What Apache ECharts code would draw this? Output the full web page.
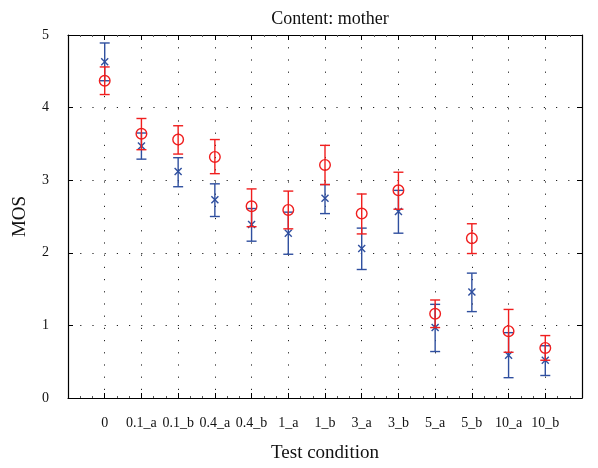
<!DOCTYPE html>
<html><head><meta charset="utf-8">
<script src="https://cdn.jsdelivr.net/npm/echarts@6/dist/echarts.min.js"></script>
<style>html,body{margin:0;padding:0;background:#fff}#c{width:598px;height:468px}</style>
</head><body><div id="c"></div>
<script>
var categories = ['0','0.1_a','0.1_b','0.4_a','0.4_b','1_a','1_b','3_a','3_b','5_a','5_b','10_a','10_b'];
// Blue series (x markers): mean, lower, upper
var blueMean  = [4.63, 3.47, 3.12, 2.73, 2.39, 2.27, 2.75, 2.06, 2.57, 0.97, 1.46, 0.59, 0.52];
var blueLow   = [4.37, 3.29, 2.91, 2.50, 2.16, 1.98, 2.54, 1.77, 2.27, 0.64, 1.19, 0.28, 0.31];
var blueHigh  = [4.89, 3.65, 3.31, 2.95, 2.61, 2.56, 2.94, 2.34, 2.86, 1.29, 1.72, 0.90, 0.72];
// Red series (circles): mean, lower, upper
var redMean   = [4.37, 3.64, 3.56, 3.32, 2.64, 2.59, 3.21, 2.54, 2.86, 1.16, 2.20, 0.92, 0.69];
var redLow    = [4.18, 3.42, 3.36, 3.09, 2.36, 2.33, 2.94, 2.26, 2.60, 0.97, 1.99, 0.63, 0.52];
var redHigh   = [4.56, 3.85, 3.75, 3.56, 2.88, 2.85, 3.48, 2.81, 3.11, 1.35, 2.40, 1.22, 0.86];
var yTicks = [0, 1, 2, 3, 4, 5];

var BLUE = '#2f4f9f', RED = '#f01e1e';

function build(mean, low, high) {
  return categories.map(function (c, i) { return [i + 1, mean[i], low[i], high[i]]; });
}

function makeRender(color, marker) {
  return function (params, api) {
    var x = api.value(0);
    var pm = api.coord([x, api.value(1)]);
    var pl = api.coord([x, api.value(2)]);
    var ph = api.coord([x, api.value(3)]);
    var cw = 5;
    var st = { stroke: color, lineWidth: 1.4, fill: null };
    var children = [
      { type: 'line', shape: { x1: pl[0], y1: pl[1], x2: ph[0], y2: ph[1] }, style: st },
      { type: 'line', shape: { x1: pl[0] - cw, y1: pl[1], x2: pl[0] + cw, y2: pl[1] }, style: st },
      { type: 'line', shape: { x1: ph[0] - cw, y1: ph[1], x2: ph[0] + cw, y2: ph[1] }, style: st }
    ];
    if (marker === 'circle') {
      children.push({ type: 'circle', shape: { cx: pm[0], cy: pm[1], r: 5.3 }, style: { stroke: color, lineWidth: 1.4, fill: 'none' } });
    } else {
      var s = 3.5;
      children.push({ type: 'line', shape: { x1: pm[0] - s, y1: pm[1] - s, x2: pm[0] + s, y2: pm[1] + s }, style: st });
      children.push({ type: 'line', shape: { x1: pm[0] - s, y1: pm[1] + s, x2: pm[0] + s, y2: pm[1] - s }, style: st });
    }
    return { type: 'group', children: children };
  };
}

var dotted = { color: '#222', width: 1, type: [1.2, 11] };
var serif = '"Liberation Serif", "DejaVu Serif", serif';

var chart = echarts.init(document.getElementById('c'), null, { renderer: 'canvas' });
chart.setOption({
  animation: false,
  backgroundColor: '#fff',
  title: {
    text: 'Content: mother', left: 325, top: 5, textAlign: 'center',
    textStyle: { fontFamily: serif, fontSize: 18, fontWeight: 'normal', color: '#111' }
  },
  grid: { left: 68, right: 16, top: 35, bottom: 63 },
  xAxis: [{
    type: 'value', min: 0, max: 14, interval: 1, position: 'bottom',
    axisLine: { show: true, onZero: false, lineStyle: { color: '#000', width: 1.2 } },
    axisTick: { show: true, inside: true, length: 5, lineStyle: { color: '#000' } },
    minorTick: { show: true, splitNumber: 3, length: 2, lineStyle: { color: '#555' } },
    splitLine: { show: true, lineStyle: dotted },
    axisLabel: {
      fontFamily: serif, fontSize: 14, color: '#111', margin: 18,
      formatter: function (v) { return (v >= 1 && v <= categories.length) ? categories[v - 1] : ''; }
    },
    name: 'Test condition', nameLocation: 'middle', nameGap: 46,
    nameTextStyle: { fontFamily: serif, fontSize: 19, color: '#111' }
  }, {
    type: 'value', min: 0, max: 14, interval: 1, position: 'top',
    axisLine: { show: true, onZero: false, lineStyle: { color: '#000', width: 1.2 } },
    axisTick: { show: true, inside: true, length: 5, lineStyle: { color: '#000' } },
    minorTick: { show: true, splitNumber: 3, length: 2, lineStyle: { color: '#555' } },
    splitLine: { show: false }, axisLabel: { show: false }
  }],
  yAxis: [{
    type: 'value', min: yTicks[0], max: yTicks[yTicks.length - 1], interval: 1, position: 'left',
    axisLine: { show: true, onZero: false, lineStyle: { color: '#000', width: 1.2 } },
    axisTick: { show: true, inside: true, length: 5, lineStyle: { color: '#000' } },
    splitLine: { show: true, lineStyle: dotted },
    axisLabel: { fontFamily: serif, fontSize: 14, color: '#111', margin: 19 },
    name: 'MOS', nameLocation: 'middle', nameGap: 38, nameRotate: 90,
    nameTextStyle: { fontFamily: serif, fontSize: 19, color: '#111' }
  }, {
    type: 'value', min: 0, max: 5, interval: 1, position: 'right',
    axisLine: { show: true, onZero: false, lineStyle: { color: '#000', width: 1.2 } },
    axisTick: { show: true, inside: true, length: 5, lineStyle: { color: '#000' } },
    splitLine: { show: false }, axisLabel: { show: false }
  }],
  series: [{
    type: 'custom', xAxisIndex: 0, yAxisIndex: 0,
    renderItem: makeRender(BLUE, 'x'),
    encode: { x: 0, y: [1, 2, 3] },
    data: build(blueMean, blueLow, blueHigh), z: 2, clip: false
  }, {
    type: 'custom', xAxisIndex: 0, yAxisIndex: 0,
    renderItem: makeRender(RED, 'circle'),
    encode: { x: 0, y: [1, 2, 3] },
    data: build(redMean, redLow, redHigh), z: 3, clip: false
  }]
});
</script></body></html>
